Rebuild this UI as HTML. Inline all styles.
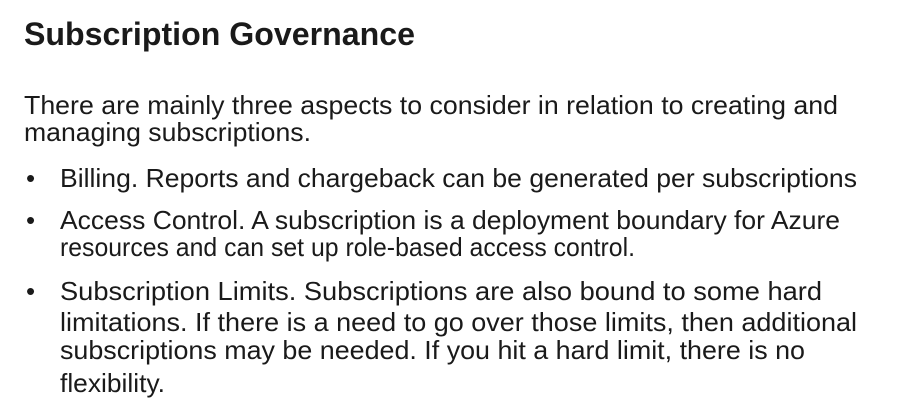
<!DOCTYPE html>
<html><head><meta charset="utf-8"><style>
html,body{margin:0;padding:0;background:#fff;width:908px;height:400px;overflow:hidden}
svg text{font-family:"Liberation Sans",sans-serif;fill:#1a1a1a}
</style></head><body>
<svg width="908" height="400" viewBox="0 0 908 400">
<text x="24" y="45" font-size="32" font-weight="bold" textLength="391" lengthAdjust="spacingAndGlyphs">Subscription Governance</text>
<g font-size="26">
<text x="24" y="114" textLength="814" lengthAdjust="spacingAndGlyphs">There are mainly three aspects to consider in relation to creating and</text>
<text x="24" y="141" textLength="287" lengthAdjust="spacingAndGlyphs">managing subscriptions.</text>
<text x="26" y="187">•</text>
<text x="60" y="187" textLength="797" lengthAdjust="spacingAndGlyphs"><tspan>Billing</tspan>. Reports and chargeback can be generated per subscriptions</text>
<text x="26" y="229">•</text>
<text x="60" y="229" textLength="780" lengthAdjust="spacingAndGlyphs">Access Control. A subscription is a deployment boundary for Azure</text>
<text x="60" y="256" textLength="575" lengthAdjust="spacingAndGlyphs">resources and can set up role-based access control.</text>
<text x="26" y="300">•</text>
<text x="60" y="300" textLength="762" lengthAdjust="spacingAndGlyphs">Subscription Limits. Subscriptions are also bound to some hard</text>
<text x="60" y="331" textLength="797" lengthAdjust="spacingAndGlyphs">limitations. If there is a need to go over those limits, then additional</text>
<text x="60" y="359" textLength="745" lengthAdjust="spacingAndGlyphs">subscriptions may be needed. If you hit a hard limit, there is no</text>
<text x="60" y="392" textLength="105" lengthAdjust="spacingAndGlyphs">flexibility.</text>
</g>
</svg>
</body></html>
